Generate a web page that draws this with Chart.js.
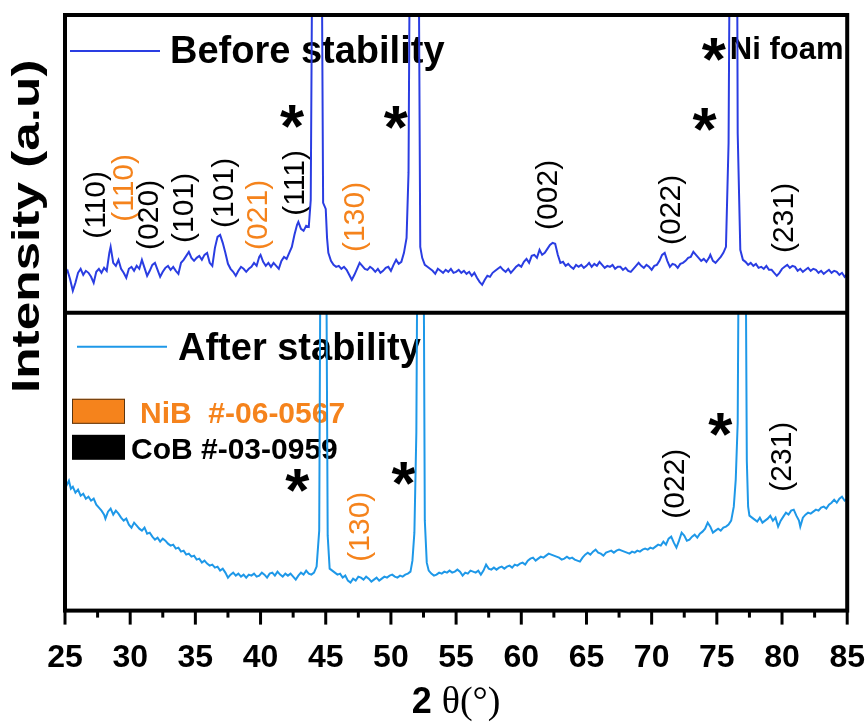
<!DOCTYPE html>
<html>
<head>
<meta charset="utf-8">
<script src="https://cdn.jsdelivr.net/npm/chart.js@4.4.1/dist/chart.umd.min.js"></script>
<style>
  html, body { margin: 0; padding: 0; background: #fff; }
  #wrap { width: 865px; height: 723px; }
</style>
</head>
<body>
<div id="wrap"><canvas id="xrd"></canvas></div>
<script>
// 2theta tick labels
const xTicks = [25, 30, 35, 40, 45, 50, 55, 60, 65, 70, 75, 80, 85];

// Before stability (top panel), intensity in arbitrary units, peaks run off scale
const beforeTheta = [
  25.0, 25.2, 25.4, 25.6, 25.8, 26.0, 26.2, 26.4, 26.6, 26.8,
  27.0, 27.2, 27.4, 27.6, 27.8, 28.0, 28.2, 28.4, 28.5, 28.7,
  28.9, 29.1, 29.3, 29.5, 29.7, 29.9, 30.1, 30.3, 30.5, 30.7,
  30.9, 31.1, 31.3, 31.5, 31.7, 31.9, 32.1, 32.3, 32.5, 32.7,
  32.9, 33.1, 33.3, 33.5, 33.7, 33.9, 34.1, 34.3, 34.5, 34.7,
  34.9, 35.1, 35.3, 35.5, 35.7, 35.9, 36.1, 36.3, 36.5, 36.7,
  36.9, 37.1, 37.3, 37.5, 37.7, 37.9, 38.1, 38.3, 38.5, 38.7,
  38.9, 39.1, 39.3, 39.5, 39.7, 39.9, 40.0, 40.2, 40.4, 40.6,
  40.8, 41.0, 41.2, 41.4, 41.6, 41.8, 42.0, 42.2, 42.4, 42.6,
  42.8, 42.9, 43.1, 43.3, 43.5, 43.7, 43.85, 44.35, 44.8, 45.0,
  45.1, 45.2, 45.4, 45.6, 45.8, 46.0, 46.2, 46.4, 46.6, 46.8,
  47.0, 47.2, 47.4, 47.6, 47.8, 48.0, 48.2, 48.4, 48.6, 48.8,
  49.0, 49.2, 49.4, 49.6, 49.8, 50.0, 50.2, 50.4, 50.6, 50.8,
  51.0, 51.2, 51.35, 51.8, 52.25, 52.4, 52.6, 52.8, 53.0, 53.2,
  53.4, 53.6, 53.8, 54.0, 54.2, 54.4, 54.6, 54.8, 55.0, 55.2,
  55.4, 55.6, 55.8, 56.0, 56.2, 56.4, 56.6, 56.8, 57.0, 57.2,
  57.4, 57.6, 57.8, 58.0, 58.2, 58.4, 58.6, 58.8, 59.0, 59.2,
  59.4, 59.6, 59.8, 60.0, 60.2, 60.4, 60.6, 60.8, 61.0, 61.2,
  61.4, 61.6, 61.8, 62.0, 62.2, 62.4, 62.6, 62.8, 63.0, 63.2,
  63.4, 63.6, 63.8, 64.0, 64.2, 64.4, 64.6, 64.8, 65.0, 65.2,
  65.4, 65.6, 65.8, 66.0, 66.2, 66.4, 66.6, 66.8, 67.0, 67.2,
  67.4, 67.6, 67.8, 68.0, 68.2, 68.4, 68.6, 68.8, 69.0, 69.2,
  69.4, 69.6, 69.8, 70.0, 70.2, 70.4, 70.6, 70.8, 71.0, 71.2,
  71.4, 71.6, 71.8, 72.0, 72.2, 72.4, 72.6, 72.8, 73.0, 73.2,
  73.4, 73.6, 73.8, 74.0, 74.2, 74.4, 74.5, 74.7, 74.9, 75.1,
  75.3, 75.5, 75.7, 75.9, 76.35, 76.6, 76.8, 77.0, 77.2, 77.4,
  77.6, 77.8, 78.0, 78.2, 78.4, 78.6, 78.8, 79.0, 79.2, 79.4,
  79.6, 79.8, 80.0, 80.2, 80.4, 80.6, 80.8, 81.0, 81.2, 81.4,
  81.6, 81.8, 82.0, 82.2, 82.4, 82.6, 82.8, 83.0, 83.2, 83.4,
  83.6, 83.8, 84.0, 84.2, 84.4, 84.6, 84.8, 85.0
];
const beforeIntensity = [
  38, 42, 33, 22, 30, 40, 44, 38, 42, 40,
  36, 30, 41, 44, 40, 45, 42, 60, 66, 50,
  47, 53, 44, 40, 35, 44, 46, 42, 47, 44,
  53, 45, 37, 42, 48, 50, 43, 36, 41, 45,
  47, 43, 46, 42, 39, 50, 53, 57, 61, 55,
  52, 55, 57, 53, 58, 60, 50, 47, 65, 76,
  78, 70, 60, 49, 44, 41, 37, 42, 46, 44,
  41, 44, 46, 50, 47, 56, 58, 51, 47, 50,
  46, 50, 47, 44, 52, 56, 54, 60, 66, 78,
  88, 91, 84, 82, 87, 86, 113, 1200, 110, 104,
  75, 60, 52, 48, 46, 47, 44, 46, 43, 38,
  33, 38, 44, 50, 47, 44, 43, 46, 44, 41,
  44, 40, 42, 45, 46, 42, 48, 53, 49, 51,
  60, 75, 140, 1200, 66, 55, 48, 46, 44, 42,
  39, 44, 42, 40, 43, 41, 44, 40, 41, 43,
  40, 42, 39, 41, 37, 40, 35, 31, 28, 33,
  37, 36, 40, 42, 44, 46, 43, 41, 44, 40,
  43, 46, 48, 46, 51, 54, 50, 57, 58, 55,
  63, 58, 60, 64, 68, 70, 69, 58, 50, 51,
  47, 49, 46, 44, 48, 46, 48, 45, 47, 50,
  46, 49, 47, 51, 48, 45, 47, 46, 48, 44,
  46, 46, 43, 45, 42, 41, 44, 47, 50, 47,
  45, 48, 46, 43, 47, 48, 52, 58, 60, 52,
  46, 49, 48, 45, 49, 50, 52, 55, 56, 61,
  58, 55, 52, 54, 51, 55, 58, 52, 50, 53,
  56, 60, 66, 170, 1200, 180, 63, 53, 51, 48,
  50, 47, 49, 45, 46, 44, 47, 43, 43, 40,
  37, 40, 44, 46, 48, 45, 47, 46, 42, 44,
  41, 43, 45, 42, 44, 43, 40, 42, 39, 41,
  43, 40, 42, 41, 38, 40, 36, 39
];

// After stability (bottom panel)
const afterTheta = [
  25.0, 25.15, 25.3, 25.45, 25.6, 25.8, 26.0, 26.2, 26.4, 26.6,
  26.8, 27.0, 27.2, 27.4, 27.6, 27.8, 28.0, 28.1, 28.3, 28.5,
  28.7, 28.9, 29.1, 29.3, 29.5, 29.7, 29.9, 30.1, 30.3, 30.5,
  30.7, 30.9, 31.1, 31.3, 31.5, 31.7, 31.9, 32.1, 32.3, 32.5,
  32.7, 32.9, 33.1, 33.3, 33.5, 33.7, 33.9, 34.1, 34.3, 34.5,
  34.7, 34.9, 35.1, 35.3, 35.5, 35.7, 35.9, 36.1, 36.3, 36.5,
  36.7, 36.9, 37.1, 37.3, 37.5, 37.7, 37.9, 38.1, 38.3, 38.5,
  38.7, 38.9, 39.1, 39.3, 39.5, 39.7, 39.9, 40.1, 40.3, 40.5,
  40.7, 40.9, 41.1, 41.3, 41.5, 41.7, 41.9, 42.1, 42.3, 42.5,
  42.7, 42.9, 43.1, 43.3, 43.5, 43.7, 43.9, 44.1, 44.3, 44.5,
  44.8, 45.15, 45.3, 45.5, 45.7, 45.9, 46.1, 46.3, 46.5, 46.7,
  46.9, 47.1, 47.3, 47.5, 47.7, 47.9, 48.1, 48.3, 48.5, 48.7,
  48.9, 49.1, 49.3, 49.5, 49.7, 49.9, 50.1, 50.3, 50.5, 50.7,
  50.9, 51.1, 51.3, 51.5, 51.65, 51.8, 51.95, 52.3, 52.6, 52.75,
  52.9, 53.1, 53.3, 53.5, 53.7, 53.9, 54.1, 54.3, 54.5, 54.7,
  54.9, 55.1, 55.3, 55.5, 55.7, 55.9, 56.1, 56.3, 56.5, 56.7,
  56.9, 57.1, 57.3, 57.5, 57.7, 57.9, 58.1, 58.3, 58.5, 58.7,
  58.9, 59.1, 59.3, 59.5, 59.7, 59.9, 60.1, 60.3, 60.5, 60.7,
  60.9, 61.1, 61.3, 61.5, 61.7, 61.9, 62.1, 62.3, 62.5, 62.7,
  62.9, 63.1, 63.3, 63.5, 63.7, 63.9, 64.1, 64.3, 64.5, 64.7,
  64.9, 65.1, 65.3, 65.5, 65.7, 65.9, 66.1, 66.3, 66.5, 66.7,
  66.9, 67.1, 67.3, 67.5, 67.7, 67.9, 68.1, 68.3, 68.5, 68.7,
  68.9, 69.1, 69.3, 69.5, 69.7, 69.9, 70.1, 70.3, 70.5, 70.7,
  70.9, 71.1, 71.3, 71.5, 71.7, 71.9, 72.1, 72.3, 72.5, 72.7,
  72.9, 73.1, 73.3, 73.5, 73.7, 73.9, 74.1, 74.3, 74.5, 74.7,
  74.9, 75.1, 75.3, 75.5, 75.7, 75.9, 76.1, 76.3, 76.45, 76.6,
  76.95, 77.3, 77.4, 77.5, 77.7, 77.9, 78.1, 78.3, 78.5, 78.7,
  78.9, 79.1, 79.3, 79.5, 79.7, 79.9, 80.1, 80.3, 80.5, 80.7,
  80.9, 81.1, 81.3, 81.4, 81.6, 81.8, 82.0, 82.2, 82.4, 82.6,
  82.8, 83.0, 83.2, 83.4, 83.6, 83.8, 84.0, 84.2, 84.4, 84.6,
  84.8, 85.0
];
const afterIntensity = [
  132, 126, 130, 122, 124, 118, 121, 115, 117, 112,
  114, 110, 112, 106, 103, 100, 96, 92, 99, 102,
  96, 100, 97, 93, 90, 92, 86, 83, 88, 85,
  82, 80, 83, 77, 78, 74, 71, 73, 69, 72,
  70, 67, 65, 66, 62, 63, 59, 60, 56, 57,
  54, 55, 51, 52, 48, 50, 47, 45, 46, 43,
  44, 40, 42, 38, 33, 36, 38, 35, 37, 34,
  36, 33, 36, 35, 37, 34, 35, 38, 36, 33,
  37, 38, 35, 39, 36, 34, 37, 35, 37, 34,
  31, 35, 38, 36, 40, 37, 36, 38, 44, 80,
  1000, 75, 42, 40, 38, 36, 37, 33, 35, 30,
  28, 32, 30, 34, 33, 31, 34, 32, 29, 31,
  33, 30, 32, 34, 33, 35, 36, 34, 33, 35,
  34, 36, 37, 39, 50, 78, 178, 1000, 90, 48,
  40, 37, 35, 36, 38, 37, 39, 38, 40, 38,
  39, 41, 39, 35, 38, 37, 40, 39, 38, 40,
  36, 40, 46, 42, 41, 43, 41, 43, 44, 42,
  44, 45, 43, 46, 45, 47, 48, 46, 50, 52,
  53, 50, 52, 54, 53, 55, 57, 56, 55, 54,
  53, 51, 52, 54, 52, 53, 51, 50, 49, 53,
  56, 58, 56, 59, 61, 58, 57, 55, 58, 59,
  60, 58, 60, 61, 60, 59, 58, 57, 59, 58,
  60, 59, 61, 62, 61, 63, 62, 64, 66, 65,
  69, 66, 72, 74, 68, 63, 70, 78, 75, 70,
  71, 74, 76, 73, 77, 79, 82, 88, 84, 78,
  80, 82, 80, 83, 84, 86, 90, 104, 131, 188,
  1000, 150, 104, 95, 93, 91, 89, 93, 88, 90,
  92, 95, 90, 93, 84, 90, 94, 98, 96, 100,
  101, 95, 90, 84, 93, 96, 98, 97, 99, 101,
  100, 103, 104, 102, 106, 108, 111, 108, 112, 114,
  110, 112
];

// Miller-index labels: text, 2theta, height on its panel, phase, panel
const hklText  = ['(110)', '(110)', '(020)', '(101)', '(101)', '(021)', '(111)', '(130)', '(002)', '(022)', '(231)', '(130)', '(022)', '(231)'];
const hklTheta = [27.46, 29.6, 31.5, 34.2, 37.3, 39.85, 42.7, 47.3, 62.15, 71.55, 80.2, 47.7, 71.9, 80.1];
const hklPos   = [108, 125, 98, 105, 120, 98, 130, 96, 118, 103, 95, 84, 127, 154];
const hklPhase = ['CoB', 'NiB', 'CoB', 'CoB', 'CoB', 'NiB', 'CoB', 'NiB', 'CoB', 'CoB', 'CoB', 'NiB', 'CoB', 'CoB'];
const hklPanel = ['yTop', 'yTop', 'yTop', 'yTop', 'yTop', 'yTop', 'yTop', 'yTop', 'yTop', 'yTop', 'yTop', 'yBot', 'yBot', 'yBot'];

// Ni foam markers (*)
const starTheta = [42.45, 50.4, 74.1, 74.8, 42.85, 51.0, 75.3];
const starPos   = [196, 195, 193, 263, 130, 137, 186];
const starPanel = ['yTop', 'yTop', 'yTop', 'yTop', 'yBot', 'yBot', 'yBot'];

const BLUE_BEFORE = '#2a3de2';
const BLUE_AFTER = '#1e98e8';
const ORANGE = '#f5831c';
const SANS = "'Liberation Sans', Arial, sans-serif";
const phaseColor = { CoB: '#000000', NiB: ORANGE };

// draws text so that its ink box is centred on (x, y)
function inkText(ctx, text, x, y, font, color, angle = 0, sx = 1, sy = 1) {
  ctx.save();
  ctx.font = font;
  ctx.fillStyle = color;
  ctx.textAlign = 'left';
  ctx.textBaseline = 'alphabetic';
  const m = ctx.measureText(text);
  const cx = (m.actualBoundingBoxRight - m.actualBoundingBoxLeft) / 2;
  const cy = (m.actualBoundingBoxDescent - m.actualBoundingBoxAscent) / 2;
  ctx.translate(x, y);
  ctx.rotate(angle);
  ctx.scale(sx, sy);
  ctx.fillText(text, -cx, -cy);
  ctx.restore();
}

// ink box starts at x, vertical centre of caps at y
function leftText(ctx, text, x, y, font, color) {
  ctx.save();
  ctx.font = font;
  ctx.fillStyle = color;
  ctx.textAlign = 'left';
  ctx.textBaseline = 'alphabetic';
  const cap = ctx.measureText('H');
  const m = ctx.measureText(text);
  ctx.fillText(text, x + m.actualBoundingBoxLeft, y + cap.actualBoundingBoxAscent / 2);
  ctx.restore();
}

const clipPanels = {
  id: 'clipPanels',
  beforeDatasetDraw(chart, args) {
    const ys = args.meta.yScale;
    const ctx = chart.ctx;
    ctx.save();
    ctx.beginPath();
    ctx.rect(chart.chartArea.left, ys.top, chart.chartArea.right - chart.chartArea.left, ys.bottom - ys.top);
    ctx.clip();
  },
  afterDatasetDraw(chart) {
    chart.ctx.restore();
  }
};

const annotations = {
  id: 'annotations',
  beforeDatasetsDraw(chart) {
    const ctx = chart.ctx;
    const x = chart.scales.x;
    const { left, top } = chart.chartArea;
    const mid = chart.scales.yBot.top;

    hklText.forEach((t, i) => {
      const ys = chart.scales[hklPanel[i]];
      inkText(ctx, t, x.getPixelForValue(hklTheta[i]), ys.getPixelForValue(hklPos[i]),
        '30px ' + SANS, phaseColor[hklPhase[i]], -Math.PI / 2);
    });
    starTheta.forEach((t, i) => {
      const ys = chart.scales[starPanel[i]];
      inkText(ctx, '*', x.getPixelForValue(t), ys.getPixelForValue(starPos[i]), 'bold 62px ' + SANS, '#000');
    });
    leftText(ctx, 'Ni foam', x.getPixelForValue(76.15), chart.scales.yTop.getPixelForValue(265), 'bold 31px ' + SANS, '#000');

    // series legends
    ctx.save();
    ctx.lineWidth = 2;
    ctx.strokeStyle = BLUE_BEFORE;
    ctx.beginPath(); ctx.moveTo(left + 5, top + 36); ctx.lineTo(left + 95, top + 36); ctx.stroke();
    ctx.strokeStyle = BLUE_AFTER;
    ctx.beginPath(); ctx.moveTo(left + 12, mid + 34); ctx.lineTo(left + 102, mid + 34); ctx.stroke();
    ctx.restore();
    leftText(ctx, 'Before stability', left + 107, top + 34, 'bold 38px ' + SANS, '#000');
    leftText(ctx, 'After stability', left + 113, mid + 34, 'bold 38px ' + SANS, '#000');

    // reference-card legend
    ctx.save();
    ctx.fillStyle = ORANGE;
    ctx.fillRect(left + 7, mid + 86, 53, 25);
    ctx.strokeStyle = '#5a3510';
    ctx.lineWidth = 1;
    ctx.strokeRect(left + 7.5, mid + 86.5, 52, 24);
    ctx.fillStyle = '#000';
    ctx.fillRect(left + 7, mid + 122, 53, 25);
    ctx.restore();
    leftText(ctx, 'NiB  #-06-0567', left + 77, mid + 100, 'bold 30px ' + SANS, ORANGE);
    leftText(ctx, 'CoB #-03-0959', left + 67, mid + 136, 'bold 30px ' + SANS, '#000');
  }
};

const frame = {
  id: 'frame',
  afterDatasetsDraw(chart) {
    const ctx = chart.ctx;
    const { left, right, top, bottom } = chart.chartArea;
    const mid = chart.scales.yBot.top;
    const x = chart.scales.x;
    ctx.save();
    ctx.strokeStyle = '#000';
    ctx.lineWidth = 4;
    ctx.strokeRect(left, top, right - left, bottom - top);
    ctx.beginPath();
    ctx.moveTo(left, mid);
    ctx.lineTo(right, mid);
    ctx.stroke();
    ctx.lineWidth = 3;
    xTicks.forEach((v, i) => {
      const px = x.getPixelForValue(v);
      ctx.beginPath(); ctx.moveTo(px, bottom); ctx.lineTo(px, bottom + 14); ctx.stroke();
      if (i < xTicks.length - 1) {
        const pm = x.getPixelForValue((v + xTicks[i + 1]) / 2);
        ctx.beginPath(); ctx.moveTo(pm, bottom); ctx.lineTo(pm, bottom + 7); ctx.stroke();
      }
    });
    ctx.restore();

    // axis titles
    inkText(ctx, 'Intensity (a.u)', 29, top + 211, 'bold 38px ' + SANS, '#000', -Math.PI / 2, 1.35, 1);
    ctx.save();
    ctx.fillStyle = '#000';
    ctx.textBaseline = 'alphabetic';
    ctx.font = 'bold 36px ' + SANS;
    const w1 = ctx.measureText('2 ').width;
    ctx.font = '38px "Liberation Serif", serif';
    const w2 = ctx.measureText('θ(°)').width;
    const sx = (left + right) / 2 - (w1 + w2) / 2;
    ctx.font = 'bold 36px ' + SANS;
    ctx.fillText('2 ', sx, 713);
    ctx.font = '38px "Liberation Serif", serif';
    ctx.fillText('θ(°)', sx + w1, 713);
    ctx.restore();
  }
};

const hiddenY = {
  type: 'linear',
  position: 'left',
  stack: 'xrd',
  stackWeight: 1,
  min: 0,
  max: 298,
  ticks: { display: false },
  grid: { display: false, drawTicks: false },
  border: { display: false }
};

new Chart(document.getElementById('xrd'), {
  type: 'line',
  data: {
    datasets: [{
      label: 'Before stability',
      data: beforeTheta.map((t, i) => ({ x: t, y: beforeIntensity[i] })),
      borderColor: BLUE_BEFORE,
      borderWidth: 2,
      pointRadius: 0,
      tension: 0,
      yAxisID: 'yTop'
    }, {
      label: 'After stability',
      data: afterTheta.map((t, i) => ({ x: t, y: afterIntensity[i] })),
      borderColor: BLUE_AFTER,
      borderWidth: 2,
      pointRadius: 0,
      tension: 0,
      yAxisID: 'yBot'
    }]
  },
  options: {
    responsive: true,
    maintainAspectRatio: false,
    animation: false,
    devicePixelRatio: 1,
    layout: { padding: { left: 65, right: 2, top: 15, bottom: 46 } },
    plugins: { legend: { display: false }, tooltip: { enabled: false } },
    scales: {
      x: {
        type: 'linear',
        min: 25,
        max: 85,
        afterBuildTicks: s => { s.ticks = xTicks.map(v => ({ value: v })); },
        // invisible tick marks give the label gap (tick marks themselves are drawn by the frame plugin)
        grid: { display: true, drawOnChartArea: false, drawTicks: true, tickLength: 28, tickColor: 'rgba(0,0,0,0)' },
        border: { display: false },
        ticks: {
          color: '#000',
          padding: 0,
          maxRotation: 0,
          autoSkip: false,
          font: { family: SANS, size: 32, weight: 'bold' }
        }
      },
      // stacked axes: the one listed last sits on top
      yBot: Object.assign({}, hiddenY),
      yTop: Object.assign({}, hiddenY)
    }
  },
  plugins: [clipPanels, annotations, frame]
});
</script>
</body>
</html>
